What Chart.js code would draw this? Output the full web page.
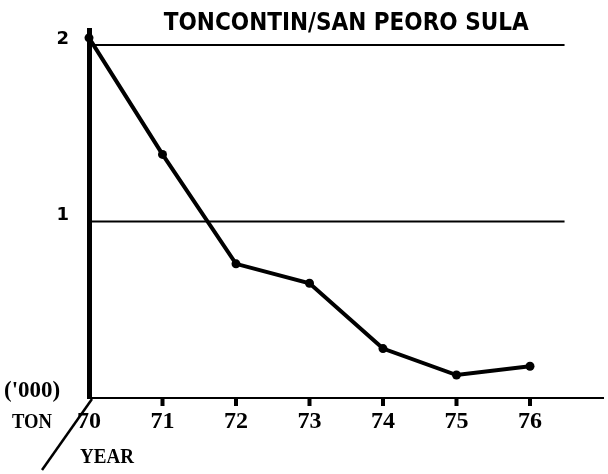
<!DOCTYPE html>
<html lang="en">
<head>
    <meta charset="UTF-8">
    <title>Toncontin / San Pedro Sula</title>
    <script src="https://cdn.jsdelivr.net/npm/chart.js"></script>
    <style>
        html, body { margin: 0; padding: 0; background: #fff; }
        #wrap { width: 608px; height: 474px; }
    </style>
</head>
<body>
    <div id="wrap"><canvas id="chart" width="608" height="474"></canvas></div>

    <script>
        // data ('000 ton per year)
        const years = [70, 71, 72, 73, 74, 75, 76];
        const tons = [2.04, 1.38, 0.76, 0.65, 0.28, 0.13, 0.18];
        const yTicks = [0, 1, 2];
        const yTickLabels = [1, 2];
        const chartTitle = 'TONCONTIN/SAN PEORO SULA';

        const points = years.map((y, i) => ({ x: y, y: tons[i] }));

        // horizontal rules at 1 and 2, stopping short of the right edge
        const rules = {
            id: 'rules',
            beforeDatasetsDraw(chart) {
                const { ctx, scales: { x, y } } = chart;
                ctx.save();
                ctx.strokeStyle = '#000';
                ctx.lineWidth = 2;
                yTickLabels.forEach(v => {
                    const py = y.getPixelForValue(v);
                    ctx.beginPath();
                    ctx.moveTo(x.getPixelForValue(70), py);
                    ctx.lineTo(x.getPixelForValue(76.47), py);
                    ctx.stroke();
                });
                ctx.restore();
            }
        };

        // title, unit labels, year tick marks and the slash in the corner
        const extras = {
            id: 'extras',
            afterDraw(chart) {
                const { ctx, chartArea, scales: { x } } = chart;
                const base = chartArea.bottom;
                ctx.save();
                ctx.fillStyle = '#000';
                ctx.textBaseline = 'alphabetic';
                ctx.textAlign = 'center';
                ctx.font = 'bold 24px "DejaVu Sans Condensed", "DejaVu Sans"';
                ctx.fillText(chartTitle, (chartArea.left + chartArea.right) / 2, 30, 372);

                ctx.textAlign = 'left';
                ctx.font = 'bold 23px "Liberation Serif"';
                ctx.fillText("('000)", 4, 397, 84);
                ctx.font = 'bold 21px "Liberation Serif"';
                ctx.fillText('TON', 12, 428, 40);
                ctx.fillText('YEAR', 80, 463, 54);

                ctx.strokeStyle = '#000';
                ctx.lineWidth = 2.5;
                ctx.beginPath();
                ctx.moveTo(chartArea.left + 3, base + 1);
                ctx.lineTo(42, 470);
                ctx.stroke();

                ctx.lineWidth = 4;
                ctx.beginPath();
                for (let i = 1; i < years.length; i++) {
                    const px = x.getPixelForValue(years[i]);
                    ctx.moveTo(px, base - 1);
                    ctx.lineTo(px, base + 8);
                }
                ctx.stroke();
                ctx.restore();
            }
        };

        new Chart(document.getElementById('chart'), {
            type: 'line',
            data: {
                datasets: [{
                    data: points,
                    borderColor: '#000',
                    backgroundColor: '#000',
                    borderWidth: 4,
                    pointRadius: 4.5,
                    pointBackgroundColor: '#000',
                    pointBorderWidth: 0,
                    tension: 0,
                    clip: false
                }]
            },
            options: {
                responsive: false,
                animation: false,
                layout: { padding: { top: 28, left: 0, right: 0, bottom: 0 } },
                plugins: {
                    legend: { display: false },
                    tooltip: { enabled: false }
                },
                scales: {
                    x: {
                        type: 'linear',
                        min: 70,
                        max: 77,
                        afterFit(scale) { scale.height = 76; },
                        afterBuildTicks(scale) { scale.ticks = years.map(v => ({ value: v })); },
                        border: { display: true, color: '#000', width: 2 },
                        grid: { drawOnChartArea: false, drawTicks: false },
                        ticks: {
                            color: '#000',
                            padding: 9,
                            maxRotation: 0,
                            autoSkip: false,
                            font: { family: '"Liberation Serif"', size: 24, weight: 'bold' },
                            callback: v => String(v)
                        }
                    },
                    y: {
                        min: 0,
                        max: 2.08,
                        afterFit(scale) { scale.width = 89; },
                        afterBuildTicks(scale) { scale.ticks = yTicks.map(v => ({ value: v })); },
                        border: { display: true, color: '#000', width: 5 },
                        grid: { display: false, drawTicks: false },
                        ticks: {
                            color: '#000',
                            padding: 20,
                            labelOffset: -6,
                            autoSkip: false,
                            font: { family: '"DejaVu Sans"', size: 18, weight: 'bold' },
                            callback: v => yTickLabels.includes(v) ? String(v) : ''
                        }
                    }
                }
            },
            plugins: [rules, extras]
        });
    </script>
</body>
</html>
